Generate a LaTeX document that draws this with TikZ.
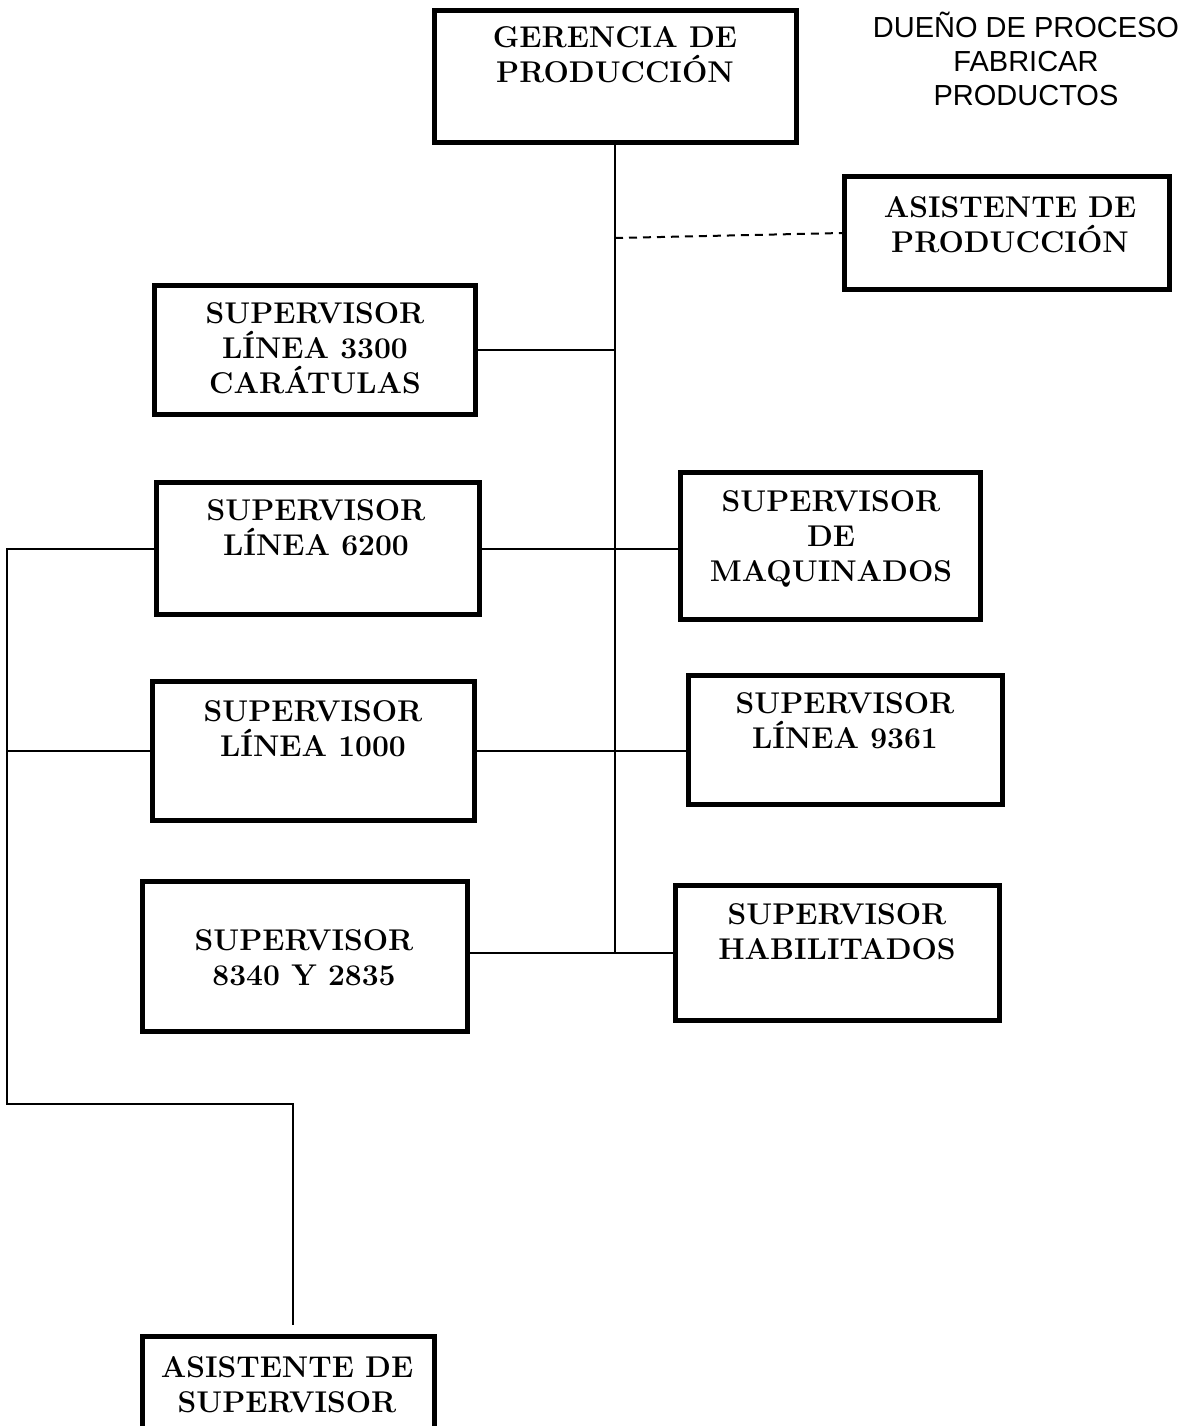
\documentclass[tikz,border=0pt]{standalone}
\usepackage{fontspec}
\newfontfamily\notefont{Liberation Sans}
\usetikzlibrary{positioning}
\tikzset{
  unit/.style={draw,rectangle,line width=2.5pt,inner sep=0pt},
  boxsize/.style 2 args={minimum width=#1*0.5pt,minimum height=#2*0.5pt},
  unitlabel/.style={anchor=north,align=center,inner sep=0pt,font=\fontsize{15}{17.5}\selectfont\bfseries},
  link/.style={line width=1pt},
}

\begin{document}
\begin{tikzpicture}[x=0.5pt,y=-0.5pt]
    \clip (0,0) rectangle (1189,1426);
    \node[unit,boxsize={362}{132}] (ger) at (615,76.5) {};
    \node[unitlabel] (gertext) at (615,26.5) {GERENCIA DE\\PRODUCCIÓN};
    \node[anchor=north,align=center,inner sep=0pt,font=\notefont\fontsize{14.5}{17}\selectfont] (owner) at (1026,12) {DUEÑO DE PROCESO\\FABRICAR\\PRODUCTOS};
    \node[unit,boxsize={325}{113}] (asp) at (1007,233) {};
    \node[unitlabel] (asptext) at (1010,196.5) {ASISTENTE DE\\PRODUCCIÓN};
    \node[unit,boxsize={321}{129}] (s3300) at (315,350) {};
    \node[unitlabel] (s3300text) at (315,302.5) {SUPERVISOR\\LÍNEA 3300\\CARÁTULAS};
    \node[unit,boxsize={323}{132}] (s6200) at (318,548.5) {};
    \node[unitlabel] (s6200text) at (316,499.5) {SUPERVISOR\\LÍNEA 6200};
    \node[unit,boxsize={300}{147}] (maq) at (830.5,546) {};
    \node[unitlabel] (maqtext) at (831,490.5) {SUPERVISOR\\DE\\MAQUINADOS};
    \node[unit,boxsize={322}{139}] (s1000) at (313.5,751) {};
    \node[unitlabel] (s1000text) at (313,700.5) {SUPERVISOR\\LÍNEA 1000};
    \node[unit,boxsize={314}{129}] (s9361) at (845.5,740) {};
    \node[unitlabel] (s9361text) at (845,692.5) {SUPERVISOR\\LÍNEA 9361};
    \node[unit,boxsize={325}{150}] (s8340) at (305,956.5) {};
    \node[unitlabel] (s8340text) at (304,929.5) {SUPERVISOR\\8340 Y 2835};
    \node[unit,boxsize={324}{135}] (hab) at (837.5,953) {};
    \node[unitlabel] (habtext) at (837,903.5) {SUPERVISOR\\HABILITADOS};
    \node[unit,boxsize={292}{114}] (ass) at (288.5,1393) {};
    \node[unitlabel] (asstext) at (287,1356.5) {ASISTENTE DE\\SUPERVISOR};
    \coordinate (dashfork) at (615,238);
    \coordinate (buscorner) at (7,1104);
    \coordinate (busdrop) at (293,1104);
    \coordinate (asstip) at (293,1325);
    \draw[link] (ger.south) -- (ger.south |- hab.west);
    \draw[link,dashed,dash pattern=on 4pt off 3pt] (dashfork) -- (asp.west);
    \draw[link] (s3300.east) -- (s3300.east -| ger.south);
    \draw[link] (s6200.east) -- (s6200.east -| maq.west);
    \draw[link] (s1000.east) -- (s1000.east -| s9361.west);
    \draw[link] (hab.west -| s8340.east) -- (hab.west);
    \draw[link] (s6200.west) -- (s6200.west -| buscorner) -- (buscorner) -- (busdrop) -- (asstip);
    \draw[link] (s1000.west) -- (s1000.west -| buscorner);
  \end{tikzpicture}
\end{document}
